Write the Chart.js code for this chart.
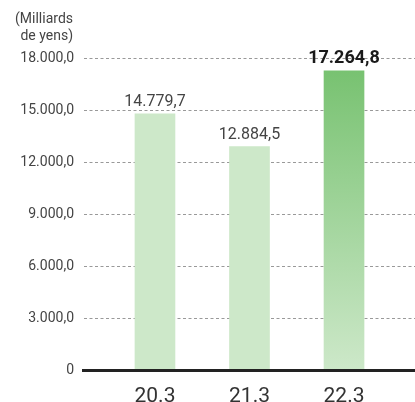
<!DOCTYPE html>
<html>
<head>
<meta charset="utf-8">
<script src="https://cdn.jsdelivr.net/npm/chart.js@4"></script>
<style>
html,body{margin:0;padding:0;background:#fff;}
#wrap{position:relative;width:415px;height:402px;}
</style>
</head>
<body>
<div id="wrap"><canvas id="c" width="415" height="402"></canvas></div>
<script>
const categories = ['20.3', '21.3', '22.3'];
const values = [14779.7, 12884.5, 17264.8];
const valueLabels = ['14.779,7', '12.884,5', '17.264,8'];
const yTicks = [0, 3000, 6000, 9000, 12000, 15000, 18000];
const yTickLabels = ['0', '3.000,0', '6.000,0', '9.000,0', '12.000,0', '15.000,0', '18.000,0'];
const unitLines = ['(Milliards', 'de yens)'];

const FONT = 'Roboto, "DejaVu Sans", sans-serif';

const extras = {
  id: 'extras',
  beforeDatasetsDraw(chart) {
    const {ctx, chartArea, scales} = chart;
    ctx.save();
    ctx.strokeStyle = '#999';
    ctx.lineWidth = 1;
    ctx.setLineDash([3, 2.5]);
    yTicks.forEach(v => {
      if (v === 0) return;
      const yy = Math.round(scales.y.getPixelForValue(v)) + 0.5;
      ctx.beginPath();
      ctx.moveTo(chartArea.left + 2, yy);
      ctx.lineTo(chartArea.right, yy);
      ctx.stroke();
    });
    ctx.restore();
  },
  afterDatasetsDraw(chart) {
    const {ctx, chartArea, scales} = chart;
    const y0 = scales.y.getPixelForValue(0);
    ctx.save();
    ctx.fillStyle = '#222';
    ctx.fillRect(chartArea.left, y0 - 1, chartArea.right - chartArea.left, 3);
    const meta = chart.getDatasetMeta(0);
    meta.data.forEach((bar, i) => {
      const last = i === values.length - 1;
      ctx.font = (last ? 'bold 18px ' : '16px ') + FONT;
      ctx.fillStyle = last ? '#1a1a1a' : '#444';
      ctx.textAlign = 'center';
      ctx.textBaseline = 'alphabetic';
      ctx.fillText(valueLabels[i], bar.x, bar.y - 8);
    });
    ctx.font = '14px ' + FONT;
    ctx.fillStyle = '#444';
    ctx.textAlign = 'right';
    ctx.textBaseline = 'middle';
    ctx.fillText(unitLines[0], 73, 19);
    ctx.fillText(unitLines[1], 73, 36);
    ctx.restore();
  }
};

const ctx = document.getElementById('c').getContext('2d');
new Chart(ctx, {
  type: 'bar',
  data: {
    datasets: [{
      data: values.map((v, i) => ({x: i, y: v})),
      backgroundColor(c) {
        const chart = c.chart;
        const {chartArea} = chart;
        if (!chartArea) return '#cde8c9';
        if (c.dataIndex === values.length - 1) {
          const ys = chart.scales.y;
          const g = chart.ctx.createLinearGradient(0, ys.getPixelForValue(values[c.dataIndex]), 0, ys.getPixelForValue(0));
          g.addColorStop(0, '#78c271');
          g.addColorStop(1, '#cde8c9');
          return g;
        }
        return '#cde8c9';
      },
      borderWidth: 0,
      barThickness: 40
    }]
  },
  options: {
    responsive: false,
    animation: false,
    layout: {padding: {left: 0, right: 0, top: 58, bottom: 0}},
    plugins: {legend: {display: false}, tooltip: {enabled: false}},
    scales: {
      x: {
        type: 'linear',
        offset: false,
        min: -0.772,
        max: 2.751,
        grid: {display: false, offset: false},
        border: {display: false},
        afterBuildTicks(scale) { scale.ticks = categories.map((c, i) => ({value: i})); },
        afterFit(scale) { scale.height = 32; },
        ticks: {
          callback: (v) => categories[v] ?? '',
          color: '#333',
          font: {family: FONT, size: 21},
          padding: 6,
          autoSkip: false,
          maxRotation: 0
        }
      },
      y: {
        min: 0,
        max: 18000,
        afterBuildTicks(scale) { scale.ticks = yTicks.map(v => ({value: v})); },
        grid: {display: false},
        border: {display: false},
        afterFit(scale) { scale.width = 82; },
        ticks: {
          callback: (v) => yTickLabels[yTicks.indexOf(v)],
          color: '#444',
          font: {family: FONT, size: 14},
          padding: 0
        }
      }
    }
  },
  plugins: [extras]
});
</script>
</body>
</html>
